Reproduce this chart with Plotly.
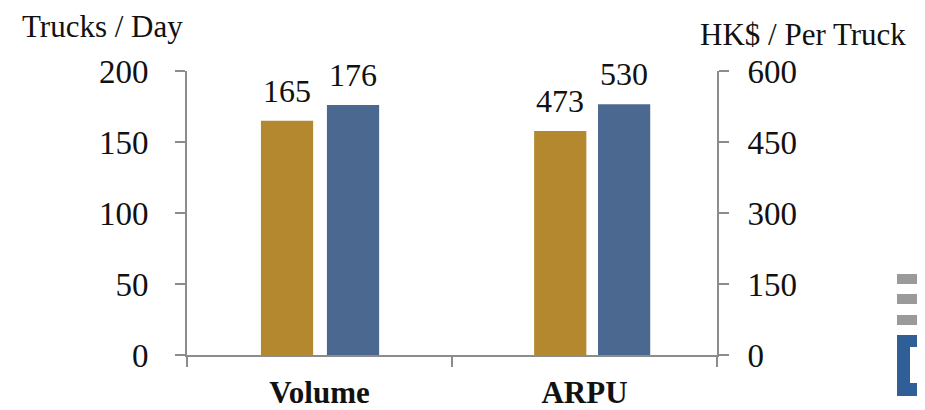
import plotly.graph_objects as go

# Werte
kategorien = ["Volume", "ARPU"]
vorjahr = [165, 473]      # goldene Balken
aktuell = [176, 530]      # blaue Balken
achse = ["y", "y2"]       # Volume -> linke Achse, ARPU -> rechte Achse
ticks_links = [0, 50, 100, 150, 200]
ticks_rechts = [0, 150, 300, 450, 600]

GOLD = "#B3882E"
BLAU = "#4B6990"
GRAU = "#8C8C8C"
SCHRIFT = "Liberation Serif, Times New Roman, serif"

# die Seite hat 8px Rand, daher alles um 8px verschoben
RAND = 8
W, H = 925 - RAND, 410 - RAND
L, R, T, B = 187 - RAND, 208, 71 - RAND, 55
plot_w = W - L - R
plot_h = H - T - B
kat_px = plot_w / len(kategorien)


def px_x(x):
    return (x - RAND - L) / plot_w


def px_y(y):
    return (H - B - (y - RAND)) / plot_h


# Versatz/Breite je Balken (in Kategorie-Einheiten)
versatz_gold = [-0.221, -0.19]
versatz_blau = [0.028, 0.051]
breite = 0.197

fig = go.Figure()
for i, kat in enumerate(kategorien):
    for wert, farbe, off in [(vorjahr[i], GOLD, versatz_gold[i]), (aktuell[i], BLAU, versatz_blau[i])]:
        fig.add_trace(go.Bar(x=[kat], y=[wert], yaxis=achse[i], marker_color=farbe,
                             marker_line_width=0, width=breite, offset=off,
                             showlegend=False, hoverinfo="skip"))
        # Beschriftung über dem Balken
        fig.add_annotation(x=kat, y=wert, xref="x", yref=achse[i], text=str(wert),
                           showarrow=False, yanchor="bottom", yshift=10,
                           xshift=(off + breite / 2) * kat_px,
                           font=dict(family=SCHRIFT, size=32, color="#111"))

fig.update_layout(
    width=W, height=H, margin=dict(l=L, r=R, t=T, b=B, autoexpand=False),
    paper_bgcolor="white", plot_bgcolor="white", barmode="overlay",
    font=dict(family=SCHRIFT, size=33, color="#111"),
    xaxis=dict(categoryorder="array", categoryarray=kategorien, tickson="boundaries",
               ticks="outside", ticklen=10, tickwidth=2, tickcolor=GRAU,
               showline=True, linecolor=GRAU, linewidth=2, showgrid=False,
               tickfont=dict(family=SCHRIFT, size=31, color="#111", weight="bold"),
               ticklabelstandoff=9),
    yaxis=dict(range=[0, 200], tickvals=ticks_links, ticks="outside", ticklen=10,
               tickwidth=2, tickcolor=GRAU, showline=True, linecolor=GRAU, linewidth=2,
               showgrid=False, zeroline=False, ticklabelstandoff=20),
    yaxis2=dict(range=[0, 600], tickvals=ticks_rechts, overlaying="y", side="right",
                ticks="outside", ticklen=10, tickwidth=2, tickcolor=GRAU, showline=True,
                linecolor=GRAU, linewidth=2, showgrid=False, zeroline=False,
                ticklabelstandoff=12),
)

# Achsentitel
fig.add_annotation(x=px_x(20), y=px_y(26), xref="paper", yref="paper", xanchor="left",
                   yanchor="middle", text="Trucks / Day", showarrow=False,
                   font=dict(family=SCHRIFT, size=31, color="#111"))
fig.add_annotation(x=px_x(698), y=px_y(34), xref="paper", yref="paper", xanchor="left",
                   yanchor="middle", text="HK$ / Per Truck", showarrow=False,
                   font=dict(family=SCHRIFT, size=31, color="#111"))


# Logo-Fragment unten rechts (Seitenpixel -> paper)
def rechteck(x0, y0, x1, y1, farbe):
    fig.add_shape(type="rect", xref="paper", yref="paper",
                  x0=px_x(x0), x1=px_x(x1), y0=px_y(y0), y1=px_y(y1),
                  fillcolor=farbe, line_width=0, layer="above")


for y in (274, 294, 315):
    rechteck(897, y, 930, y + 10, "#9A9A9A")
rechteck(897, 335, 930, 396, "#2F5F96")
rechteck(910, 347, 930, 383, "white")

fig.write_html("out.html")
